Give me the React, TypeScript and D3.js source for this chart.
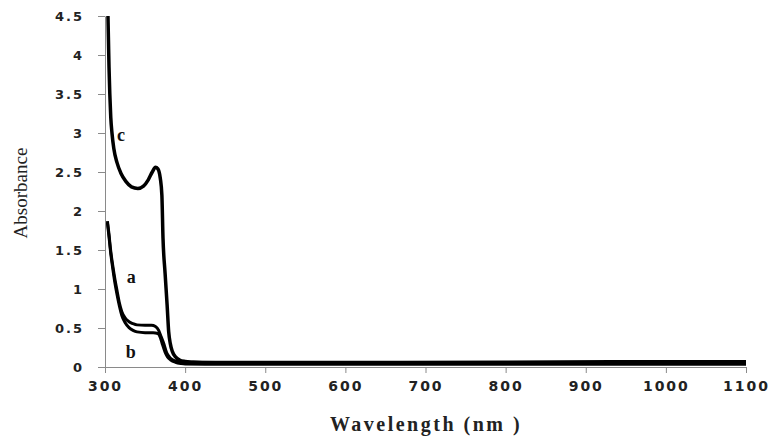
import * as d3 from "d3";
import { useEffect, useRef } from "react";

// wavelength (nm) / absorbance pairs
const wlA = [303, 305, 307, 310, 312.5, 315, 318, 321, 325, 330, 335, 340, 350, 358, 363, 367, 370, 373, 377, 381, 385, 390, 397, 450, 600, 800, 1000, 1100];
const absA = [1.87, 1.7, 1.5, 1.28, 1.12, 0.98, 0.82, 0.71, 0.63, 0.58, 0.555, 0.54, 0.535, 0.535, 0.52, 0.47, 0.39, 0.31, 0.18, 0.12, 0.09, 0.075, 0.065, 0.06, 0.06, 0.065, 0.07, 0.07];

const wlB = [303, 305, 307, 310, 312.5, 315, 318, 321, 325, 330, 335, 340, 350, 360, 366, 369, 372, 375, 378, 382, 388, 395, 400, 450, 600, 800, 1000, 1100];
const absB = [1.85, 1.67, 1.47, 1.24, 1.07, 0.93, 0.78, 0.66, 0.57, 0.505, 0.47, 0.45, 0.44, 0.44, 0.43, 0.38, 0.28, 0.19, 0.13, 0.09, 0.06, 0.045, 0.04, 0.035, 0.035, 0.035, 0.035, 0.035];

const wlC = [303.7, 304.3, 305, 306, 307.2, 308.7, 311, 315, 320, 326, 333, 341, 348, 354, 359, 363, 366, 369, 371, 372.4, 375, 377.5, 379.5, 381.5, 384, 388, 393, 400, 410, 430, 500, 700, 900, 1100];
const absC = [4.5, 4.2, 3.85, 3.5, 3.2, 3.0, 2.8, 2.62, 2.48, 2.38, 2.31, 2.29, 2.32, 2.4, 2.5, 2.56, 2.54, 2.42, 2.2, 1.65, 1.2, 0.8, 0.45, 0.3, 0.2, 0.13, 0.09, 0.07, 0.06, 0.05, 0.05, 0.048, 0.052, 0.052];

const xTicks = [300, 400, 500, 600, 700, 800, 900, 1000, 1100];
const yTicks = [0, 0.5, 1, 1.5, 2, 2.5, 3, 3.5, 4, 4.5];

const labelText = ["a", "b", "c"];
const labelWl = [327, 326, 315];
const labelAbs = [1.08, 0.115, 2.9];

const App = () => {
  const svgRef = useRef<SVGSVGElement | null>(null);

  useEffect(() => {
    const width = 783;
    const height = 441;
    const svg = d3.select(svgRef.current);
    svg.selectAll("*").remove();
    svg.attr("width", width).attr("height", height);

    const x = d3.scaleLinear().domain([300, 1100]).range([105, 746]);
    const y = d3.scaleLinear().domain([0, 4.5]).range([367, 16]);

    const axisColor = "#8a8a8a";

    // x axis
    const gX = svg
      .append("g")
      .attr("transform", `translate(0, ${y(0)})`)
      .call(d3.axisBottom(x).tickValues(xTicks).tickSize(6).tickSizeOuter(0).tickFormat(d3.format("d")));
    gX.select(".domain").attr("stroke", axisColor);
    gX.selectAll(".tick line").attr("stroke", axisColor);
    gX.selectAll(".tick text")
      .attr("y", 24)
      .attr("dy", 0)
      .attr("fill", "#222")
      .style("font-family", "'DejaVu Sans', sans-serif")
      .style("font-weight", "bold")
      .style("font-size", "14px")
      .style("letter-spacing", "2px");

    // y axis
    const gY = svg
      .append("g")
      .attr("transform", `translate(${x(300)}, 0)`)
      .call(d3.axisLeft(y).tickValues(yTicks).tickSize(7).tickSizeOuter(0).tickFormat((d) => String(d)));
    gY.select(".domain").attr("stroke", axisColor);
    gY.selectAll(".tick line").attr("stroke", axisColor);
    gY.selectAll(".tick text")
      .attr("x", -21)
      .attr("fill", "#222")
      .style("font-family", "'DejaVu Sans', sans-serif")
      .style("font-weight", "bold")
      .style("font-size", "13px")
      .style("letter-spacing", "2px");

    const line = d3
      .line<[number, number]>()
      .x((d) => x(d[0]))
      .y((d) => y(d[1]))
      .curve(d3.curveMonotoneX);

    const series: [number[], number[], number][] = [
      [wlA, absA, 3],
      [wlB, absB, 3],
      [wlC, absC, 3.5],
    ];
    series.forEach(([wl, ab, w]) => {
      svg
        .append("path")
        .datum(wl.map((v, i) => [v, ab[i]] as [number, number]))
        .attr("fill", "none")
        .attr("stroke", "#000")
        .attr("stroke-width", w)
        .attr("stroke-linejoin", "round")
        .attr("d", line);
    });

    svg
      .selectAll(".lbl")
      .data(labelText)
      .enter()
      .append("text")
      .attr("class", "lbl")
      .attr("x", (_, i) => x(labelWl[i]))
      .attr("y", (_, i) => y(labelAbs[i]))
      .attr("fill", "#111")
      .style("font-family", "'Liberation Serif', serif")
      .style("font-weight", "bold")
      .style("font-size", "18px")
      .text((d) => d);

    svg
      .append("text")
      .attr("x", 426)
      .attr("y", 431)
      .attr("text-anchor", "middle")
      .attr("fill", "#222")
      .style("font-family", "'Liberation Serif', serif")
      .style("font-weight", "bold")
      .style("font-size", "20px")
      .style("letter-spacing", "2.5px")
      .text("Wavelength (nm )");

    svg
      .append("text")
      .attr("transform", "translate(27, 193) rotate(-90)")
      .attr("text-anchor", "middle")
      .attr("fill", "#222")
      .style("font-family", "'Liberation Serif', serif")
      .style("font-size", "19px")
      .text("Absorbance");
  }, []);

  return (
    <svg
      ref={svgRef}
      style={{ position: "absolute", left: 0, top: 0, display: "block", background: "#fff" }}
    ></svg>
  );
};

export default App;
